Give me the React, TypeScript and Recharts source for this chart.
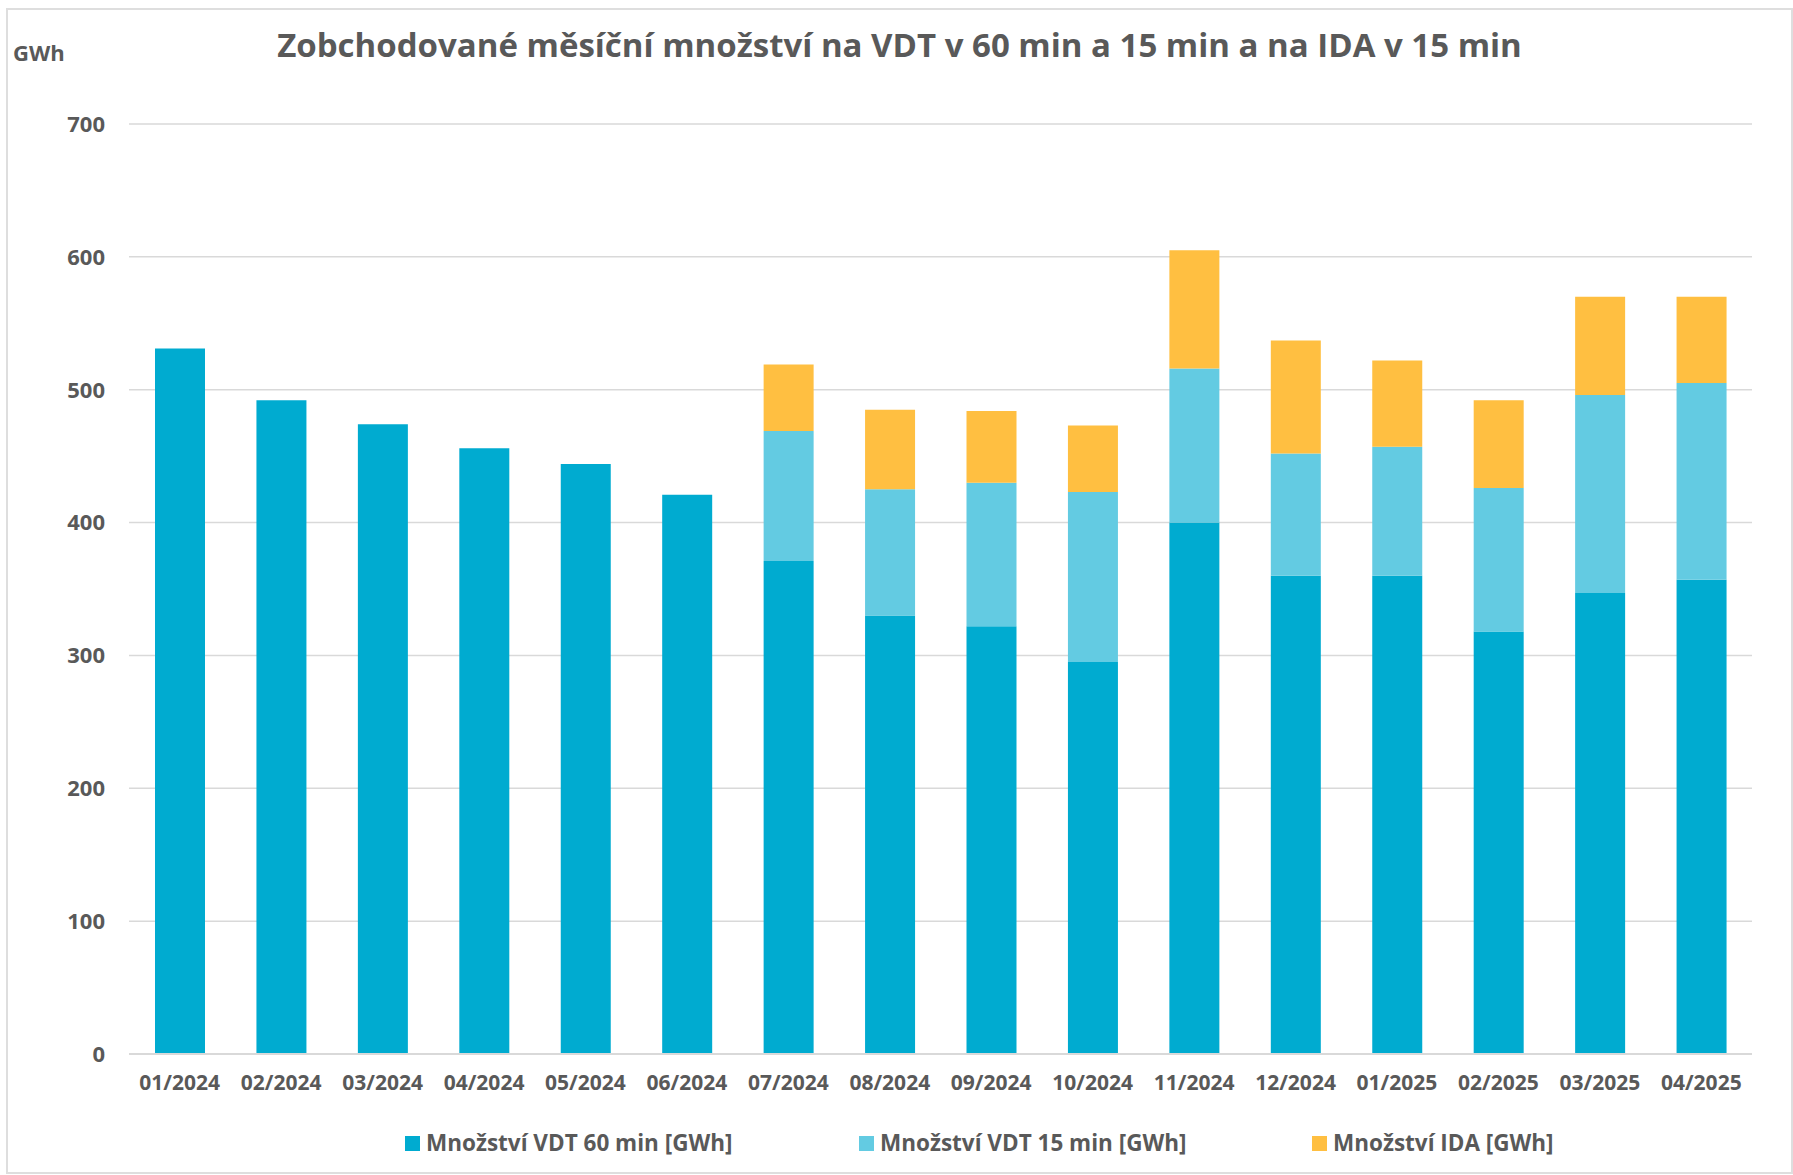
import React from "react";
import { BarChart, Bar, XAxis, YAxis, CartesianGrid } from "recharts";

// měsíce a zobchodované množství (GWh)
const months = [
  "01/2024", "02/2024", "03/2024", "04/2024", "05/2024", "06/2024", "07/2024", "08/2024",
  "09/2024", "10/2024", "11/2024", "12/2024", "01/2025", "02/2025", "03/2025", "04/2025",
];
const vdt60 = [531, 492, 474, 456, 444, 421, 371, 330, 322, 295, 400, 360, 360, 318, 347, 357];
const vdt15 = [null, null, null, null, null, null, 98, 95, 108, 128, 116, 92, 97, 108, 149, 148];
const ida = [null, null, null, null, null, null, 50, 60, 54, 50, 89, 85, 65, 66, 74, 65];
const yTicks = [0, 100, 200, 300, 400, 500, 600, 700];

const seriesNames = ["Množství VDT 60 min [GWh]", "Množství VDT 15 min [GWh]", "Množství IDA [GWh]"];
const colors = ["#00abd0", "#63cbe2", "#ffbf41"];

const chartData = months.map((m, i) => ({
  month: m,
  vdt60: vdt60[i],
  vdt15: vdt15[i],
  ida: ida[i],
}));

const FONT = "'Open Sans', 'Noto Sans', sans-serif";
const GRAY = "#595959";

// legend item positions on the page
const legendX = [405, 859, 1312];

export default function App() {
  return (
    <div style={{ position: "absolute", left: 0, top: 0, width: 1793, height: 1175, fontFamily: FONT }}>
      {/* rámeček grafu */}
      <div
        style={{
          position: "absolute",
          left: 6,
          top: 8,
          width: 1783,
          height: 1162,
          border: "2px solid #dedede",
        }}
      />

      <div
        style={{
          position: "absolute",
          left: 3,
          top: 27.5,
          width: 1793,
          textAlign: "center",
          fontSize: 33,
          lineHeight: "33px",
          fontWeight: 700,
          color: GRAY,
          whiteSpace: "nowrap",
        }}
      >
        Zobchodované měsíční množství na VDT v 60 min a 15 min a na IDA v 15 min
      </div>

      <div
        style={{
          position: "absolute",
          left: 13,
          top: 41,
          fontSize: 22,
          lineHeight: "22px",
          fontWeight: 700,
          color: GRAY,
        }}
      >
        GWh
      </div>

      <div style={{ position: "absolute", left: 0, top: 0 }}>
        <BarChart
          width={1793}
          height={1175}
          data={chartData}
          margin={{ top: 124, left: 0, right: 41, bottom: 71 }}
        >
          <CartesianGrid vertical={false} stroke="#d9d9d9" strokeWidth={1.5} />
          <XAxis
            dataKey="month"
            height={50}
            tickLine={false}
            tickSize={0}
            tickMargin={21}
            axisLine={{ stroke: "#d9d9d9", strokeWidth: 2 }}
            interval={0}
            tick={{ fill: GRAY, fontSize: 21, fontWeight: 700, fontFamily: FONT }}
          />
          <YAxis
            width={129}
            domain={[0, 700]}
            ticks={yTicks}
            tickLine={false}
            tickSize={0}
            tickMargin={24}
            axisLine={false}
            tick={{ fill: GRAY, fontSize: 22, fontWeight: 700, fontFamily: FONT }}
          />
          <Bar dataKey="vdt60" stackId="a" fill={colors[0]} barSize={50} isAnimationActive={false} />
          <Bar dataKey="vdt15" stackId="a" fill={colors[1]} barSize={50} isAnimationActive={false} />
          <Bar dataKey="ida" stackId="a" fill={colors[2]} barSize={50} isAnimationActive={false} />
        </BarChart>
      </div>

      {seriesNames.map((name, i) => (
        <div
          key={name}
          style={{
            position: "absolute",
            left: legendX[i],
            top: 1131,
            display: "flex",
            alignItems: "center",
            fontSize: 22.5,
            lineHeight: "24px",
            fontWeight: 700,
            color: GRAY,
            whiteSpace: "nowrap",
          }}
        >
          <span style={{ display: "inline-block", width: 15, height: 15, background: colors[i], marginRight: 6 }} />
          {name}
        </div>
      ))}
    </div>
  );
}
